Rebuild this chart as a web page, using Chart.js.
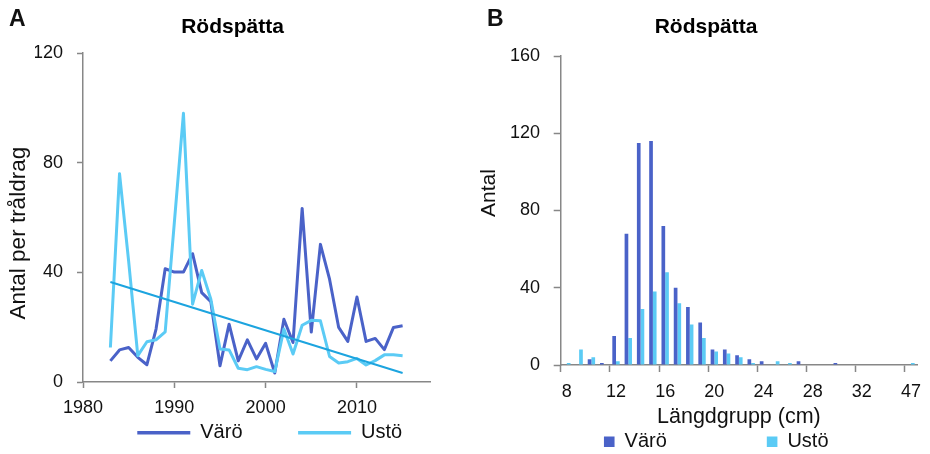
<!DOCTYPE html>
<html>
<head>
<meta charset="utf-8">
<script src="https://cdn.jsdelivr.net/npm/chart.js@4.4.1/dist/chart.umd.min.js"></script>
<style>
  html, body { margin: 0; padding: 0; background: #fff; overflow: hidden; }
  body { width: 930px; height: 454px; position: relative; font-family: 'Liberation Sans', Arial, sans-serif; }
  canvas { position: absolute; top: 0; }
  #chartA { left: 0; }
  #chartB { left: 470px; }
  .panel { position: absolute; font-weight: bold; font-size: 23px; line-height: 23px; color: #111; }
</style>
</head>
<body>
<canvas id="chartA" width="465" height="470"></canvas>
<canvas id="chartB" width="460" height="470"></canvas>
<div class="panel" style="left:9px;top:7px">A</div>
<div class="panel" style="left:487px;top:7px">B</div>
<script>
// A: fångst per tråldrag och år
const years = [1983, 1984, 1985, 1986, 1987, 1988, 1989, 1990, 1991, 1992, 1993,
	1994, 1995, 1996, 1997, 1998, 1999, 2000, 2001, 2002, 2003, 2004,
	2005, 2006, 2007, 2008, 2009, 2010, 2011, 2012, 2013, 2014, 2015];
const varoCatch = [7.7, 11.7, 12.6, 9, 6.3, 19.3, 41.3, 40.1, 40.1, 46.8, 32.6,
	29.3, 5.9, 21.1, 7.7, 15.4, 8.4, 14.1, 3.3, 22.9, 14.4, 63.3,
	18.2, 50.2, 37.5, 19.9, 14.8, 31, 14.8, 15.9, 11.8, 19.9, 20.5];
const ustoCatch = [12.6, 76, 44, 9.6, 14.7, 15.4, 18.3, 58, 98, 28.4, 40.7,
	30.2, 12, 11.7, 5, 4.5, 5.6, 4.6, 3.8, 19.3, 10.2, 20.7,
	22.5, 22.3, 9.3, 6.9, 7.4, 8.6, 6.2, 7.8, 9.9, 9.9, 9.6];
const trendYears = [1983, 2015];
const trendCatch = [36.5, 3.3];

// B: längdfördelning
const lengthGroups = ['8', '9', '10', '11', '12', '13', '14', '15', '16', '17', '18',
	'19', '20', '21', '22', '23', '24', '25', '26', '27', '28', '29',
	'30', '31', '32', '33', '34', '35', '47'];
const varoLength = [0, 0, 3, 1, 15, 68, 115, 116, 72, 40, 30,
	22, 8, 8, 5, 3, 2, 0, 0, 2, 0, 0,
	1, 0, 0, 0, 0, 0, 0];
const ustoLength = [1, 8, 4, 0, 2, 14, 29, 38, 48, 32, 21,
	14, 7, 6, 4, 1, 0, 2, 1, 0, 0, 0,
	0, 0, 0, 0, 0, 0, 1];

const DARK = '#4a62c8';
const LIGHT = '#5bcbf5';
const TREND = '#1ca4df';
const AXIS = '#878787';
const TEXT = '#111';
const NB = '\u00a0';

Chart.defaults.font.family = "'Liberation Sans', Arial, sans-serif";
Chart.defaults.color = TEXT;

const toPoints = (xs, ys) => xs.map((x, i) => ({ x: x, y: ys[i] }));

// Panel A - linjediagram
new Chart(document.getElementById('chartA'), {
	type: 'line',
	data: {
		datasets: [
			{ label: 'Värö', data: toPoints(years, varoCatch), borderColor: DARK, borderWidth: 3,
				pointRadius: 0, pointStyle: 'line', tension: 0, borderJoinStyle: 'round', order: 2 },
			{ label: 'Ustö', data: toPoints(years, ustoCatch), borderColor: LIGHT, borderWidth: 3,
				pointRadius: 0, pointStyle: 'line', tension: 0, borderJoinStyle: 'round', order: 1 },
			{ label: 'Trend', data: toPoints(trendYears, trendCatch), borderColor: TREND, borderWidth: 2,
				pointRadius: 0, tension: 0, order: 0 }
		]
	},
	options: {
		responsive: false,
		animation: false,
		events: [],
		layout: { padding: { left: 35, right: 35, top: 0, bottom: 17.3 } },
		plugins: {
			title: {
				display: true, text: 'Rödspätta', color: '#000',
				font: { size: 21, weight: 'bold' }, padding: { top: 14.4, bottom: 13.4 }
			},
			legend: {
				position: 'bottom',
				fullSize: false,
				align: 'end',
				labels: {
					usePointStyle: true,
					pointStyleWidth: 53,
					padding: 0,
					color: TEXT,
					font: { size: 20 },
					filter: item => item.datasetIndex !== 2,
					sort: (a, b) => a.datasetIndex - b.datasetIndex,
					generateLabels: function (chart) {
						const items = Chart.defaults.plugins.legend.labels.generateLabels(chart);
						items.forEach(item => {
							const ds = chart.data.datasets[item.datasetIndex];
							item.strokeStyle = ds.borderColor;
							item.lineWidth = 3.5;
							item.pointStyle = 'line';
							if (item.datasetIndex === 0) item.text = item.text + NB.repeat(10);
							if (item.datasetIndex === 1) item.text = item.text + NB.repeat(5);
						});
						return items;
					}
				}
			},
			tooltip: { enabled: false }
		},
		scales: {
			x: {
				type: 'linear',
				min: 1980,
				max: 2018,
				afterBuildTicks: scale => { scale.ticks = scale.ticks.filter(t => t.value % 10 === 0); },
				afterFit: scale => { scale.height = 40.7; },
				ticks: { stepSize: 10, padding: 9.2, color: TEXT, font: { size: 18 }, callback: v => String(v) },
				grid: { drawOnChartArea: false, tickLength: 6, tickWidth: 1.5, tickColor: AXIS },
				border: { color: AXIS, width: 1.5 }
			},
			y: {
				min: 0,
				max: 120,
				afterFit: scale => { scale.width = 48; },
				ticks: { stepSize: 40, padding: 14, color: TEXT, font: { size: 18 } },
				grid: { drawOnChartArea: false, tickLength: 6, tickWidth: 1.5, tickColor: AXIS },
				border: { color: AXIS, width: 1.5 },
				title: {
					display: true, text: 'Antal per tråldrag' + NB.repeat(5), color: TEXT,
					font: { size: 22.5 }, padding: { top: -30, bottom: 0 }
				}
			}
		}
	}
});

// Panel B - stapeldiagram
new Chart(document.getElementById('chartB'), {
	type: 'bar',
	data: {
		labels: lengthGroups,
		datasets: [
			{ label: 'Värö', data: varoLength, backgroundColor: DARK, borderWidth: 0,
				categoryPercentage: 0.6, barPercentage: 1 },
			{ label: 'Ustö', data: ustoLength, backgroundColor: LIGHT, borderWidth: 0,
				categoryPercentage: 0.6, barPercentage: 1 }
		]
	},
	options: {
		responsive: false,
		animation: false,
		events: [],
		layout: { padding: { left: 19, right: 7, top: 0, bottom: 8.3 } },
		plugins: {
			title: {
				display: true, text: 'Rödspätta', color: '#000',
				font: { size: 21, weight: 'bold' }, padding: { top: 14.4, bottom: 16.4 }
			},
			legend: {
				position: 'bottom',
				align: 'end',
				labels: {
					boxWidth: 10.6,
					boxHeight: 10.6,
					padding: 0,
					color: TEXT,
					font: { size: 20 },
					generateLabels: function (chart) {
						const items = Chart.defaults.plugins.legend.labels.generateLabels(chart);
						if (items.length > 1) {
							items[0].text = items[0].text + NB.repeat(18);
							items[1].text = items[1].text + NB.repeat(17);
						}
						return items;
					}
				}
			},
			tooltip: { enabled: false }
		},
		scales: {
			x: {
				offset: true,
				afterFit: scale => { scale.height = 66.7; },
				ticks: {
					autoSkip: false, maxRotation: 0, padding: 8.9, color: TEXT, font: { size: 18 },
					callback: function (v, i) { return i % 4 === 0 ? this.getLabelForValue(v) : ''; }
				},
				grid: {
					offset: true, drawOnChartArea: false, tickLength: 7, tickWidth: 1.5,
					tickColor: ctx => (ctx.index % 4 === 0 ? AXIS : 'rgba(0,0,0,0)')
				},
				border: { color: AXIS, width: 1.5 },
				title: {
					display: true, text: 'Längdgrupp (cm)', color: TEXT,
					font: { size: 21.5 }, padding: { top: 0, bottom: 2.2 }
				}
			},
			y: {
				min: 0,
				max: 160,
				afterFit: scale => { scale.width = 71.7; },
				ticks: { stepSize: 40, padding: 13.7, color: TEXT, font: { size: 18 } },
				grid: { drawOnChartArea: false, tickLength: 7, tickWidth: 1.5, tickColor: AXIS },
				border: { color: AXIS, width: 1.5 },
				title: {
					display: true, text: NB.repeat(6) + 'Antal', color: TEXT,
					font: { size: 21 }, padding: { top: -12.6, bottom: 0 }
				}
			}
		}
	}
});
</script>
</body>
</html>
